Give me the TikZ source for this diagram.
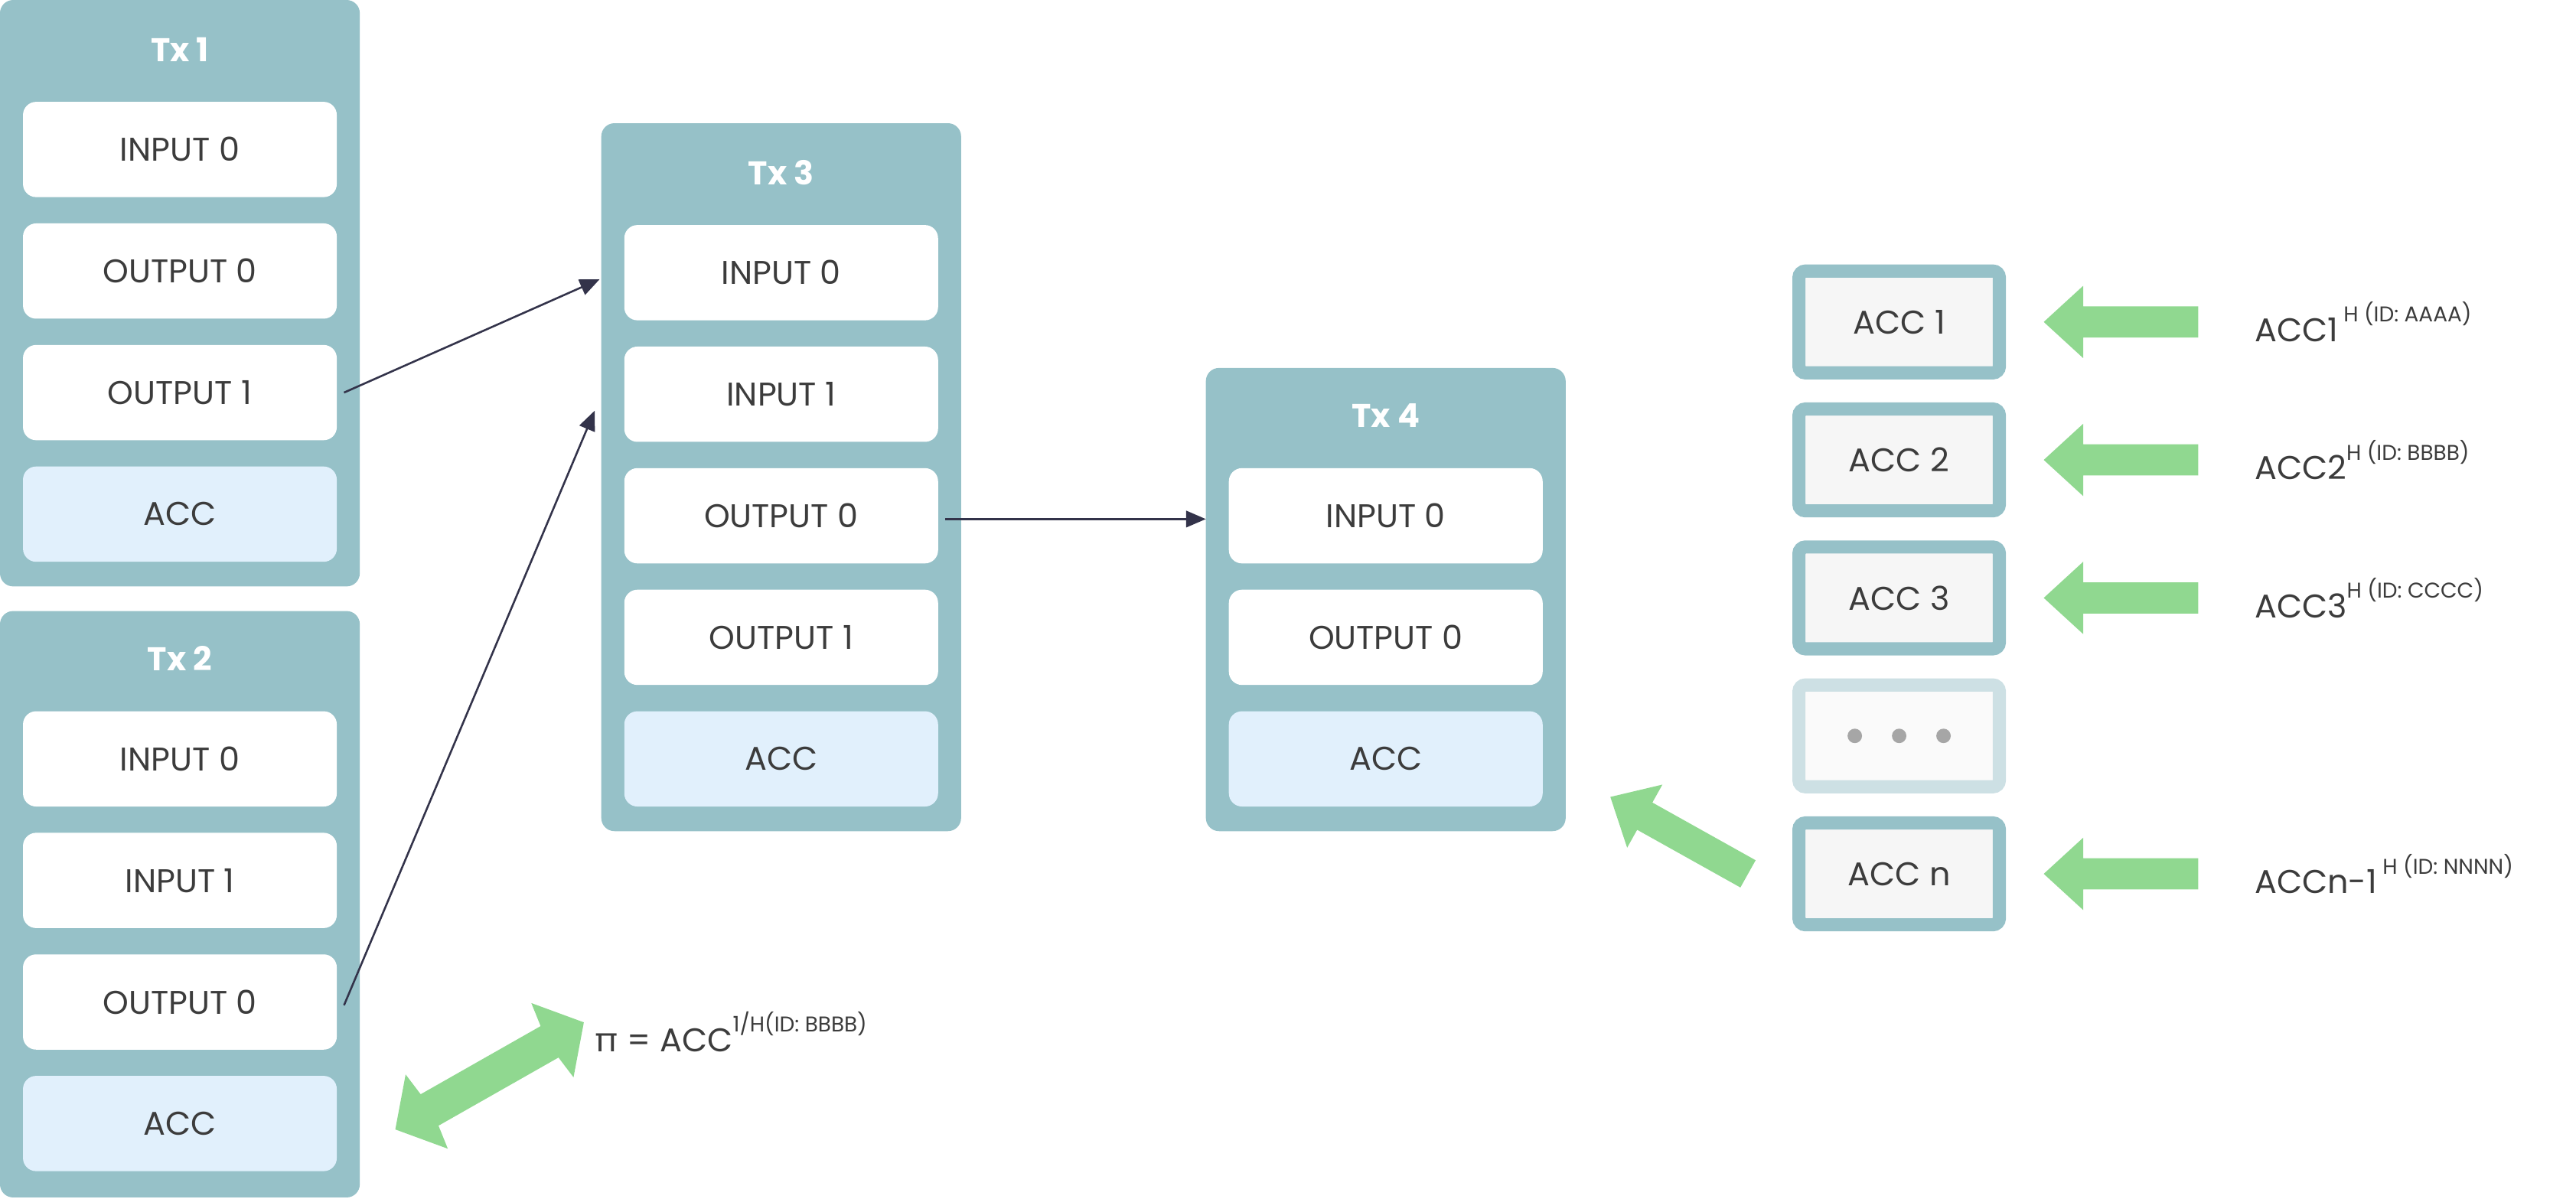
\documentclass[tikz,border=0pt]{standalone}
\usepackage{fontspec}
\setmainfont{Poppins}
\usetikzlibrary{arrows.meta}
\definecolor{teal}{HTML}{96C1C8}
\definecolor{accblue}{HTML}{E1F0FC}
\definecolor{garr}{HTML}{90D890}
\definecolor{txt}{HTML}{3C3C3C}
\definecolor{conn}{HTML}{33334A}
\definecolor{accfill}{HTML}{F6F6F6}
\definecolor{dotbord}{HTML}{CDE0E4}
\newcommand\mysup[1]{\raisebox{1.1ex}{\fontsize{6.5}{7}\selectfont #1}}
\newcommand\garrow[6]{% x y angle length halfshaft halfhead
  \begin{scope}[shift={(#1,#2)},rotate=#3]
  \fill[garr] (0,-#5)--(#4-24,-#5)--(#4-24,-#6)--(#4,0)--(#4-24,#6)--(#4-24,#5)--(0,#5)--cycle;
  \end{scope}}
\begin{document}
\begin{tikzpicture}[x=0.5pt,y=-0.5pt,
  font=\fontsize{10}{12}\selectfont,
  tx/.style={fill=teal,rounded corners=4pt,draw=none},
  title/.style={text=white,font=\fontsize{10}{12}\selectfont\bfseries},
  row/.style={fill=white,rounded corners=4pt,text=txt,minimum width=95.5pt,minimum height=29pt,inner sep=0pt},
  acc/.style={row,fill=accblue},
  abox/.style={draw=teal,line width=4pt,fill=accfill,rounded corners=2pt,text=txt,minimum width=61pt,minimum height=31pt,inner sep=0pt},
  conn/.style={draw=conn,line width=0.6pt,-{Triangle[length=6pt,width=5pt]}},
  lbl/.style={text=txt,anchor=west,inner sep=0pt}]
\useasboundingbox (0,0) rectangle (1568,729.5);
% Tx1
\fill[tx] (0,0) rectangle (219,357);
\node[title] (t1) at (109.5,30) {Tx 1};
\node[row] (t1i0) at (109.5,91) {INPUT 0};
\node[row] (t1o0) at (109.5,165) {OUTPUT 0};
\node[row] (t1o1) at (109.5,239) {OUTPUT 1};
\node[acc] (t1a) at (109.5,313) {ACC};
% Tx2
\fill[tx] (0,372) rectangle (219,729);
\node[title] (t2) at (109.5,401) {Tx 2};
\node[row] (t2i0) at (109.5,462) {INPUT 0};
\node[row] (t2i1) at (109.5,536) {INPUT 1};
\node[row] (t2o0) at (109.5,610) {OUTPUT 0};
\node[acc] (t2a) at (109.5,684) {ACC};
% Tx3
\fill[tx] (366,75) rectangle (585,506);
\node[title] (t3) at (475.5,105) {Tx 3};
\node[row] (t3i0) at (475.5,166) {INPUT 0};
\node[row] (t3i1) at (475.5,240) {INPUT 1};
\node[row] (t3o0) at (475.5,314) {OUTPUT 0};
\node[row] (t3o1) at (475.5,388) {OUTPUT 1};
\node[acc] (t3a) at (475.5,462) {ACC};
% Tx4
\fill[tx] (734,224) rectangle (953,506);
\node[title] (t4) at (843.5,253) {Tx 4};
\node[row] (t4i0) at (843.5,314) {INPUT 0};
\node[row] (t4o0) at (843.5,388) {OUTPUT 0};
\node[acc] (t4a) at (843.5,462) {ACC};
% connectors
\coordinate (c1) at (365,170);
\coordinate (c2) at (362,250);
\coordinate (c3) at (734,316);
\draw[conn] (t1o1.east) ++(4,0) -- (c1);
\draw[conn] (t2o0.east) ++(4,2) -- (c2);
\draw[conn] (t3o0.east) ++(4,2) -- (c3);
% ACC column
\node[abox] (a1) at (1156,196) {ACC 1};
\node[abox] (a2) at (1156,280) {ACC 2};
\node[abox] (a3) at (1156,364) {ACC 3};
\node[abox,draw=dotbord,fill=accfill!60] (ad) at (1156,448) {};
\foreach \dx in {-27,0,27} \fill[gray!70] (1156+\dx,448) circle (2.2pt);
\node[abox] (an) at (1156,532) {ACC n};
% green arrows
\garrow{1338}{196}{180}{94}{9.5}{22}
\garrow{1338}{280}{180}{94}{9.5}{22}
\garrow{1338}{364}{180}{94}{9.5}{22}
\garrow{1338}{532}{180}{94}{9.5}{22}
\garrow{1064}{532}{150.8}{96}{9.5}{22}
\begin{scope}[shift={(298,655)},rotate=29.6]
\fill[garr] (-66,0)--(-44,-26)--(-42,-11)--(42,-11)--(44,-26)--(66,0)--(44,26)--(42,11)--(-42,11)--(-44,26)--cycle;
\end{scope}
% labels
\node[lbl] (l1) at (1372,196) {ACC1\,\mysup{H (ID: AAAA)}};
\node[lbl] (l2) at (1372,280) {ACC2\mysup{H (ID: BBBB)}};
\node[lbl] (l3) at (1372,364) {ACC3\mysup{H (ID: CCCC)}};
\node[lbl] (ln) at (1372,532) {ACCn-1\,\mysup{H (ID: NNNN)}};
\node[lbl] (pi) at (362,628) {π = ACC\mysup{1/H(ID: BBBB)}};
\end{tikzpicture}
\end{document}
